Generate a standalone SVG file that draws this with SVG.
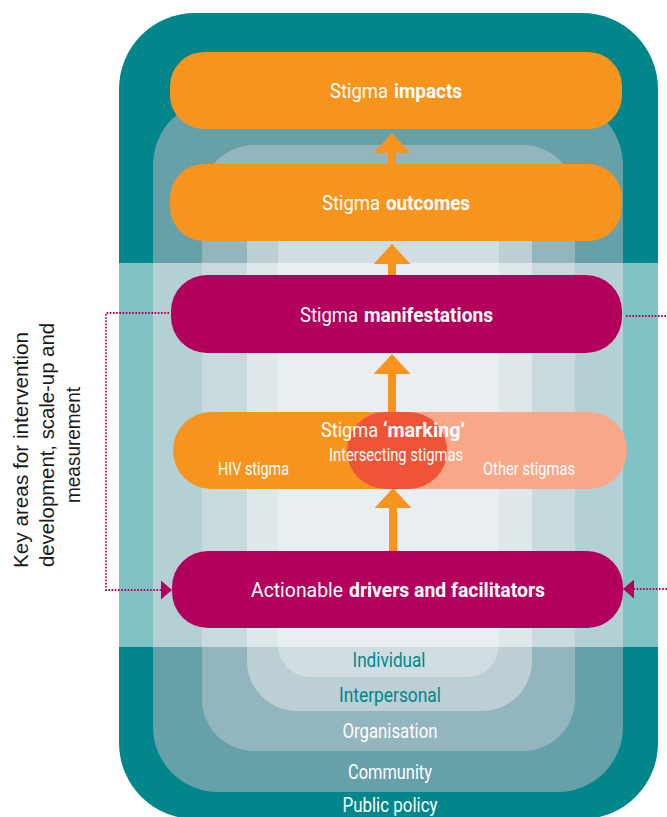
<svg xmlns="http://www.w3.org/2000/svg" width="667" height="817" viewBox="0 0 667 817">
  <style>
    .box { font-family: Roboto, "Liberation Sans", sans-serif; fill: #ffffff; }
    .title { font-size: 21px; }
    .sub { font-size: 18px; text-anchor: middle; }
    .b { font-weight: bold; }
    .lvl { font-family: Roboto, "Liberation Sans", sans-serif; font-size: 19.5px; text-anchor: middle; }
    .lvl-dark { fill: #00868b; }
    .lvl-light { fill: #ffffff; }
    .side { font-family: "Liberation Sans", Arial, sans-serif; font-size: 21px; fill: #1a1a1a; text-anchor: middle; }
    .orange { fill: #f7941e; }
    .magenta { fill: #b3005c; }
    .dots { fill: none; stroke: #b3005c; stroke-width: 1.8; stroke-dasharray: 1.6 1.6; }
    .up { fill: none; stroke: #f7941e; stroke-width: 8; }
  </style>
  <defs>
    <marker id="headUp" markerUnits="userSpaceOnUse" markerWidth="20" markerHeight="37" viewBox="0 0 20 37" refX="0" refY="18.5" orient="auto">
      <path d="M0,0 L20,18.5 L0,37 Z" fill="#f7941e"/>
    </marker>
    <marker id="headDot" markerUnits="userSpaceOnUse" markerWidth="11" markerHeight="19" viewBox="0 0 11 19" refX="11" refY="9.5" orient="auto">
      <path d="M0,0 L11,9.5 L0,19 Z" fill="#b3005c"/>
    </marker>
  </defs>

  <!-- Socio-ecological levels -->
  <g id="level-public-policy">
    <rect x="119" y="13" width="539" height="806" rx="76" fill="#00868b"/>
  </g>
  <g id="level-community">
    <rect x="153" y="100" width="470" height="692" rx="65" fill="#66a0a8"/>
  </g>
  <g id="level-organisation">
    <rect x="202" y="145" width="373" height="606" rx="52" fill="#93b5bd"/>
  </g>
  <g id="level-interpersonal">
    <rect x="247" y="170" width="285" height="541" rx="50" fill="#bccfd5"/>
  </g>
  <g id="level-individual">
    <rect x="278" y="190" width="221" height="487" rx="32" fill="#d0dde2"/>
  </g>
  <g id="key-band">
    <rect x="119" y="263" width="539" height="384" fill="#ffffff" fill-opacity="0.5"/>
  </g>
  <g id="level-labels">
    <text class="lvl lvl-dark" x="389" y="667" textLength="73" lengthAdjust="spacingAndGlyphs">Individual</text>
    <text class="lvl lvl-dark" x="390" y="702" textLength="102" lengthAdjust="spacingAndGlyphs">Interpersonal</text>
    <text class="lvl lvl-light" x="390" y="738" textLength="95" lengthAdjust="spacingAndGlyphs">Organisation</text>
    <text class="lvl lvl-light" x="390" y="779" textLength="84" lengthAdjust="spacingAndGlyphs">Community</text>
    <text class="lvl lvl-light" x="390" y="812" textLength="95" lengthAdjust="spacingAndGlyphs">Public policy</text>
  </g>

  <!-- Connectors -->
  <g id="connectors">
    <line class="up" x1="392" y1="167" x2="392" y2="153" marker-end="url(#headUp)"/>
    <line class="up" x1="392" y1="279" x2="392" y2="264" marker-end="url(#headUp)"/>
    <line class="up" x1="392" y1="414" x2="392" y2="374" marker-end="url(#headUp)"/>
    <line class="up" x1="393" y1="554" x2="393" y2="508" marker-end="url(#headUp)"/>
    <path class="dots" d="M169,313 H106 V590 H172" marker-end="url(#headDot)"/>
    <path class="dots" d="M626,316 H667"/>
    <path class="dots" d="M667,589 H623" marker-end="url(#headDot)"/>
  </g>

  <!-- Nodes -->
  <g id="stigma-impacts">
    <rect x="170" y="52" width="452" height="77" rx="34" class="orange"/>
    <text class="box title" x="330" y="98" textLength="58" lengthAdjust="spacingAndGlyphs">Stigma</text>
    <text class="box title b" x="394" y="98" textLength="68" lengthAdjust="spacingAndGlyphs">impacts</text>
  </g>
  <g id="stigma-outcomes">
    <rect x="170" y="164" width="452" height="77" rx="34" class="orange"/>
    <text class="box title" x="322" y="210" textLength="58" lengthAdjust="spacingAndGlyphs">Stigma</text>
    <text class="box title b" x="386" y="210" textLength="84" lengthAdjust="spacingAndGlyphs">outcomes</text>
  </g>
  <g id="stigma-manifestations">
    <rect x="171" y="275" width="451" height="78" rx="36" class="magenta"/>
    <text class="box title" x="300" y="322" textLength="58" lengthAdjust="spacingAndGlyphs">Stigma</text>
    <text class="box title b" x="364" y="322" textLength="129" lengthAdjust="spacingAndGlyphs">manifestations</text>
  </g>
  <g id="stigma-marking">
    <rect x="173" y="412" width="274" height="77" rx="38" fill="#f7941e"/>
    <rect x="347" y="412" width="280" height="77" rx="38" fill="#f9a789"/>
    <rect x="347" y="412" width="100" height="77" rx="38" fill="#f05436"/>
    <text class="box title" x="321" y="437" textLength="57" lengthAdjust="spacingAndGlyphs">Stigma</text>
    <text class="box title b" x="383" y="437" textLength="82" lengthAdjust="spacingAndGlyphs">‘marking’</text>
    <text class="box sub" x="396" y="461" textLength="134" lengthAdjust="spacingAndGlyphs">Intersecting stigmas</text>
    <text class="box sub" x="253.5" y="475" textLength="71" lengthAdjust="spacingAndGlyphs">HIV stigma</text>
    <text class="box sub" x="529" y="475" textLength="92" lengthAdjust="spacingAndGlyphs">Other stigmas</text>
  </g>
  <g id="drivers-facilitators">
    <rect x="172" y="551" width="451" height="77" rx="36" class="magenta"/>
    <text class="box title" x="251" y="597" textLength="92" lengthAdjust="spacingAndGlyphs">Actionable</text>
    <text class="box title b" x="349" y="597" textLength="196" lengthAdjust="spacingAndGlyphs">drivers and facilitators</text>
  </g>

  <g id="key-areas-label">
    <text class="side" transform="translate(28,450) rotate(-90)" textLength="236" lengthAdjust="spacingAndGlyphs">Key areas for intervention</text>
    <text class="side" transform="translate(54,445) rotate(-90)" textLength="244" lengthAdjust="spacingAndGlyphs">development, scale-up and</text>
    <text class="side" transform="translate(80,445) rotate(-90)" textLength="116" lengthAdjust="spacingAndGlyphs">measurement</text>
  </g>
</svg>
